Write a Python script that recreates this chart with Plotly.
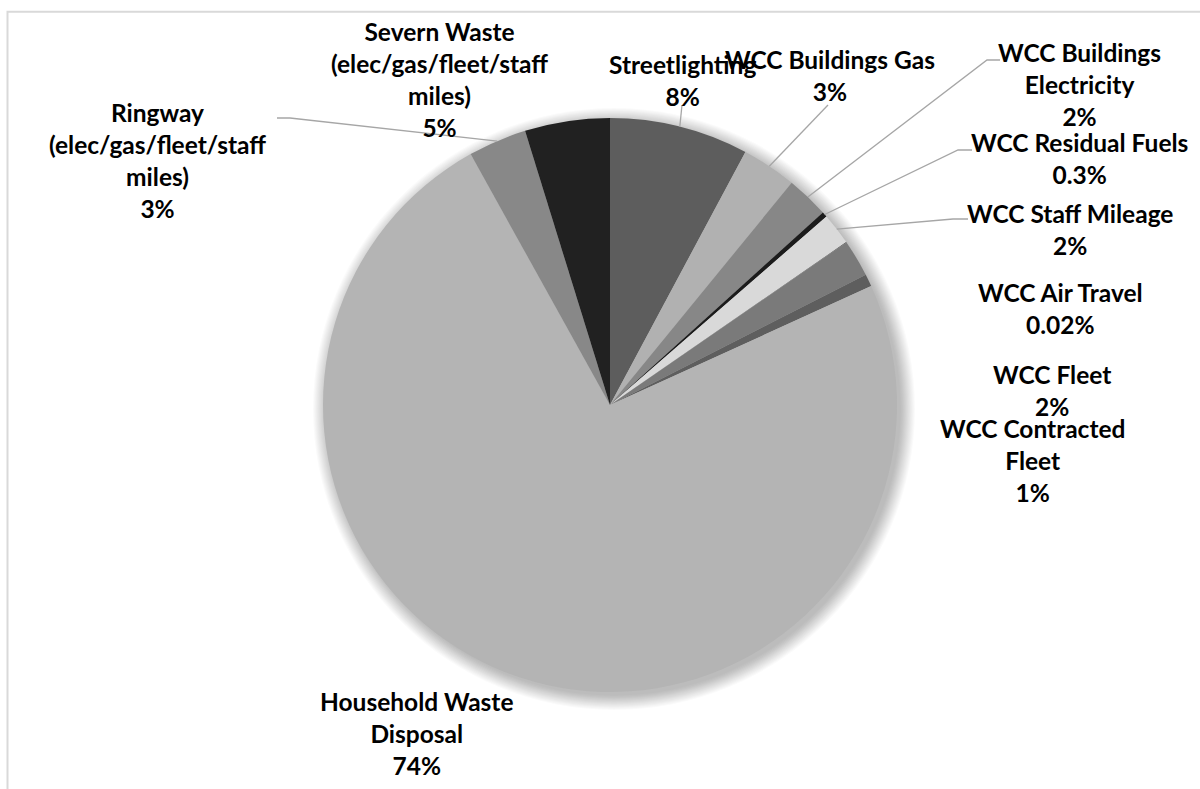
import math
import textwrap
import plotly.graph_objects as go

# ---------------- data ----------------
categories = [
    "Streetlighting",
    "WCC Buildings Gas",
    "WCC Buildings Electricity",
    "WCC Residual Fuels",
    "WCC Staff Mileage",
    "WCC Air Travel",
    "WCC Fleet",
    "WCC Contracted Fleet",
    "Household Waste Disposal",
    "Ringway (elec/gas/fleet/staff miles)",
    "Severn Waste (elec/gas/fleet/staff miles)",
]
values = [7.85, 3.1, 2.4, 0.3, 1.8, 0.02, 2.1, 0.7, 74.0, 3.3, 4.8]
slice_colors = ["#5d5d5d", "#b1b1b1", "#878787", "#1c1c1c", "#d9d9d9", "#404040",
                "#7a7a7a", "#5e5e5e", "#b4b4b4", "#888888", "#212121"]

# ---------------- layout constants (pixels) ----------------
W, H = 1200, 789
CX, CY, R = 610, 405, 287

# label block centres (px)
label_pos = [
    (682, 80), (830, 76), (1079, 85), (1079, 158), (1070, 229), (1060, 308),
    (1052, 390), (1032, 460), (417, 733), (158, 160), (440, 79),
]
# leader line elbows/ends (px), None = no leader
leaders = [
    [(682, 105)],
    [(828, 105)],
    [(987, 60), (1000, 60)],
    [(958, 150), (972, 150)],
    [(953, 219), (968, 219)],
    None, None, None, None,
    [(290, 118), (277, 118)],
    None,
]


def px(x):
    return x / W


def py(y):
    return 1 - y / H


total = sum(values)


def pct_text(v):
    p = v / total * 100
    if p >= 0.5:
        return f"{p:.0f}%"
    if p >= 0.1:
        return f"{p:.1f}%"
    return f"{p:.2f}%"


fig = go.Figure(go.Pie(
    labels=categories,
    values=values,
    sort=False,
    direction="clockwise",
    rotation=0,
    textinfo="none",
    hoverinfo="label+percent",
    marker=dict(colors=slice_colors, line=dict(width=0)),
    domain=dict(x=[px(CX - R), px(CX + R)], y=[py(CY + R), py(CY - R)]),
    showlegend=False,
))

shapes = []
# frame
shapes.append(dict(type="rect", xref="paper", yref="paper",
                   x0=px(7.5), x1=px(1210), y0=py(800), y1=py(11.7),
                   line=dict(color="#d9d9d9", width=2), fillcolor="rgba(0,0,0,0)",
                   layer="below"))
# soft shadow behind the pie
for k in range(14):
    rr = R + 14 - k * 1.1
    ox, oy = 4, 4
    shapes.append(dict(type="circle", xref="paper", yref="paper",
                       x0=px(CX + ox - rr), x1=px(CX + ox + rr),
                       y0=py(CY + oy + rr), y1=py(CY + oy - rr),
                       line=dict(width=0), fillcolor="rgba(0,0,0,0.018)",
                       layer="below"))

# leader lines from slice mid-angle edge points
cum = 0
for v, ld in zip(values, leaders):
    mid = (cum + v / 2) / total
    cum += v
    if not ld:
        continue
    ang = 2 * math.pi * mid
    ex, ey = CX + R * math.sin(ang), CY - R * math.cos(ang)
    pts = [(ex, ey)] + ld
    path = "M " + " L ".join(f"{px(x)},{py(y)}" for x, y in pts)
    shapes.append(dict(type="path", xref="paper", yref="paper", path=path,
                       line=dict(color="#a6a6a6", width=1.3), layer="above"))

annotations = []
for cat, v, (lx, ly) in zip(categories, values, label_pos):
    lines = textwrap.wrap(cat, width=19, break_long_words=False)
    txt = "<br>".join(lines + [pct_text(v)])
    annotations.append(dict(x=px(lx), y=py(ly), xref="paper", yref="paper",
                            text=f"<b>{txt}</b>", showarrow=False,
                            xanchor="center", yanchor="middle", align="center",
                            font=dict(family="Lato", size=24.5, color="#000000")))

fig.update_layout(
    width=W, height=H,
    margin=dict(l=0, r=0, t=0, b=0),
    paper_bgcolor="white",
    plot_bgcolor="white",
    shapes=shapes,
    annotations=annotations,
)

fig.write_html("out.html")
